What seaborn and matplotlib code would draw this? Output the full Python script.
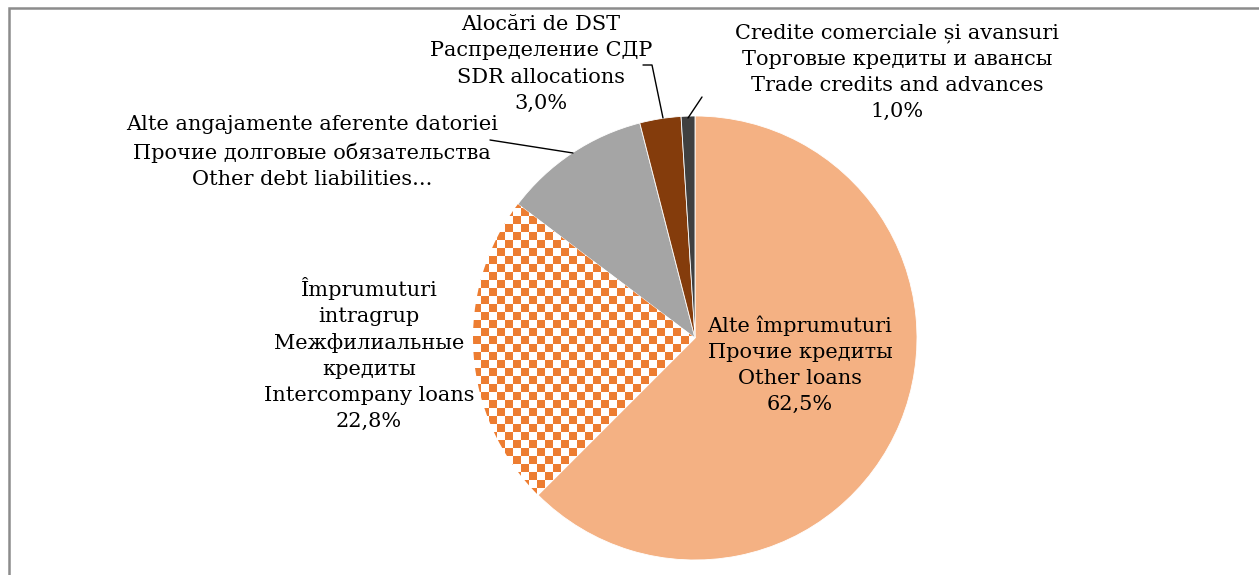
import numpy as np
import matplotlib
matplotlib.use('Agg')
import matplotlib.pyplot as plt
import seaborn as sns
from matplotlib.colors import ListedColormap
from matplotlib.patches import Rectangle

# Data
labels = ['Alte împrumuturi\nПрочие кредиты\nOther loans',
          'Împrumuturi\nintragrup\nМежфилиальные\nкредиты\nIntercompany loans',
          'Alte angajamente aferente datoriei\nПрочие долговые обязательства\nOther debt liabilities...',
          'Alocări de DST\nРаспределение СДР\nSDR allocations',
          'Credite comerciale și avansuri\nТорговые кредиты и авансы\nTrade credits and advances']
shares = [62.5, 22.8, 10.7, 3.0, 1.0]
pct_text = ['62,5%', '22,8%', '', '3,0%', '1,0%']
colors = ['#F4B183', '#FFFFFF', '#A5A5A5', '#843C0C', '#404040']
checker_color = '#ED7D31'

sns.set_style('white')
plt.rcParams['font.family'] = ['DejaVu Serif']
plt.rcParams['text.color'] = 'black'

W, H = 1259, 575
fig = plt.figure(figsize=(W / 100, H / 100), dpi=100)
ax = fig.add_axes([0, 0, 1, 1])

cx, cy, r = 695, H - 338, 222
wedges, _ = ax.pie(shares, colors=colors, startangle=90, counterclock=False,
                   center=(cx, cy), radius=r, frame=True,
                   wedgeprops=dict(edgecolor='white', linewidth=0.6))
ax.set_xlim(0, W)
ax.set_ylim(0, H)
ax.set_aspect('equal')
ax.axis('off')

# checkerboard fill for intercompany loans
cell = 8
n = int(2 * r / cell) + 2
grid = (np.add.outer(np.arange(n), np.arange(n)) % 2)
im = ax.imshow(grid, cmap=ListedColormap(['white', checker_color]),
               extent=(cx - r, cx - r + n * cell, cy - r, cy - r + n * cell),
               interpolation='nearest', origin='lower', zorder=wedges[1].get_zorder() + 0.1)
im.set_clip_path(wedges[1])

fs = 15
ls = 1.47

def py(y):
    return H - y

# labels
ax.text(800, py(365), labels[0] + '\n' + pct_text[0], ha='center', va='center',
        fontsize=fs, linespacing=ls, zorder=5)
ax.text(369, py(354), labels[1] + '\n' + pct_text[1], ha='center', va='center',
        fontsize=fs, linespacing=ls)
ax.text(312, py(152), labels[2], ha='center', va='center', fontsize=fs, linespacing=ls)
ax.text(541, py(64), labels[3] + '\n' + pct_text[3], ha='center', va='center',
        fontsize=fs, linespacing=ls)
ax.text(897, py(72), labels[4] + '\n' + pct_text[4], ha='center', va='center',
        fontsize=fs, linespacing=ls)

# leader lines
ax.plot([490, 573], [py(140), py(153)], color='black', lw=1)
ax.plot([643, 652, 663], [py(65), py(65), py(118)], color='black', lw=1)
ax.plot([702, 688], [py(97), py(118)], color='black', lw=1)

# chart area border (partly cropped)
fig.patches.append(Rectangle((8.5 / W, -0.1), 1.2, (H - 7.5) / H + 0.1,
                             transform=fig.transFigure, fill=False,
                             edgecolor='#8C8C8C', lw=1.8))

fig.savefig('out.png', dpi=100, facecolor='white')
